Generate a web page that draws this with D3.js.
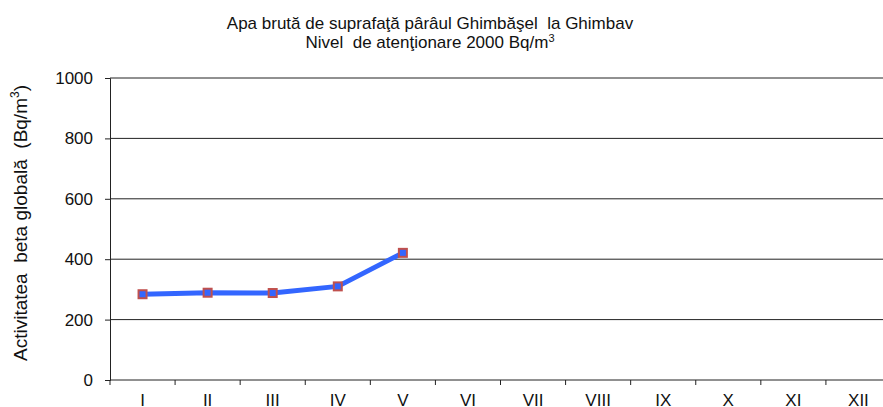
<!DOCTYPE html>
<html>
<head>
<meta charset="utf-8">
<script src="https://cdn.jsdelivr.net/npm/d3@7"></script>
<style>
  body { margin: 0; background: #fff; }
  text { font-family: "Liberation Sans", Arial, sans-serif; fill: #111; }
  .keep { white-space: pre; }
</style>
</head>
<body>
<svg id="chart" width="883" height="407"></svg>
<script>
// months in roman numerals
const months = ["I", "II", "III", "IV", "V", "VI", "VII", "VIII", "IX", "X", "XI", "XII"];
// beta activity values (Bq/m3), only first five months measured
const values = [284, 289, 288, 310, 421];
const yTicks = [0, 200, 400, 600, 800, 1000];

const margin = {left: 110, top: 78, bottom: 27};
const plotW = 781, plotH = 302;

const svg = d3.select("#chart");
const g = svg.append("g").attr("transform", "translate(" + margin.left + "," + margin.top + ")");

const x = d3.scaleBand().domain(months).range([0, plotW]);
const y = d3.scaleLinear().domain([0, 1000]).range([plotH, 0]);

// gridlines
g.selectAll(".grid")
  .data(yTicks.filter(d => d > 0))
  .enter().append("line")
  .attr("x1", 0).attr("x2", plotW)
  .attr("y1", d => y(d)).attr("y2", d => y(d))
  .style("stroke", "#222")
  .style("stroke-width", 1);

// y axis
const yAxis = g.append("g").call(d3.axisLeft(y).tickValues(yTicks).tickFormat(d3.format("d")).tickSize(5).tickPadding(12));
yAxis.select(".domain").style("stroke", "#222");
yAxis.selectAll(".tick line").style("stroke", "#222");
yAxis.selectAll("text").style("font-size", "17px").attr("fill", "#111");

// x axis with ticks at band edges
const xAxis = g.append("g").attr("transform", "translate(0," + plotH + ")");
xAxis.append("line").attr("x1", 0).attr("x2", plotW).style("stroke", "#222");
xAxis.selectAll(".xtick")
  .data(months.concat(["end"]))
  .enter().append("line")
  .attr("x1", (d, i) => i * x.step()).attr("x2", (d, i) => i * x.step())
  .attr("y1", 0).attr("y2", 5)
  .style("stroke", "#222");
xAxis.selectAll(".xlabel")
  .data(months)
  .enter().append("text")
  .attr("x", d => x(d) + x.bandwidth() / 2)
  .attr("y", 26)
  .attr("text-anchor", "middle")
  .style("font-size", "17px")
  .text(d => d);

// the line
const line = d3.line()
  .x((d, i) => x(months[i]) + x.bandwidth() / 2)
  .y(d => y(d));

g.append("path")
  .datum(values)
  .attr("d", line)
  .style("fill", "none")
  .style("stroke", "#3366ff")
  .style("stroke-width", 5)
  .style("stroke-linejoin", "round");

// square markers
g.selectAll(".marker")
  .data(values)
  .enter().append("rect")
  .attr("x", (d, i) => x(months[i]) + x.bandwidth() / 2 - 4)
  .attr("y", d => y(d) - 4)
  .attr("width", 8).attr("height", 8)
  .style("fill", "#3366ff")
  .style("stroke", "#c0504d")
  .style("stroke-width", 2);

// titles
svg.append("text")
  .attr("class", "keep")
  .attr("x", 430).attr("y", 29)
  .attr("text-anchor", "middle")
  .style("font-size", "17px")
  .text("Apa brută de suprafaţă pârâul Ghimbăşel  la Ghimbav");

const t2 = svg.append("text")
  .attr("class", "keep")
  .attr("x", 430).attr("y", 48)
  .attr("text-anchor", "middle")
  .style("font-size", "17px");
t2.append("tspan").text("Nivel  de atenţionare 2000 Bq/m");
t2.append("tspan").attr("dy", -6).style("font-size", "11px").text("3");

// y axis title
const yt = svg.append("text")
  .attr("class", "keep")
  .attr("transform", "translate(27,223) rotate(-90)")
  .attr("text-anchor", "middle")
  .style("font-size", "19px");
yt.append("tspan").text("Activitatea  beta globală  (Bq/m");
yt.append("tspan").attr("dy", -8).style("font-size", "12px").text("3");
yt.append("tspan").attr("dy", 8).text(")");
</script>
</body>
</html>
